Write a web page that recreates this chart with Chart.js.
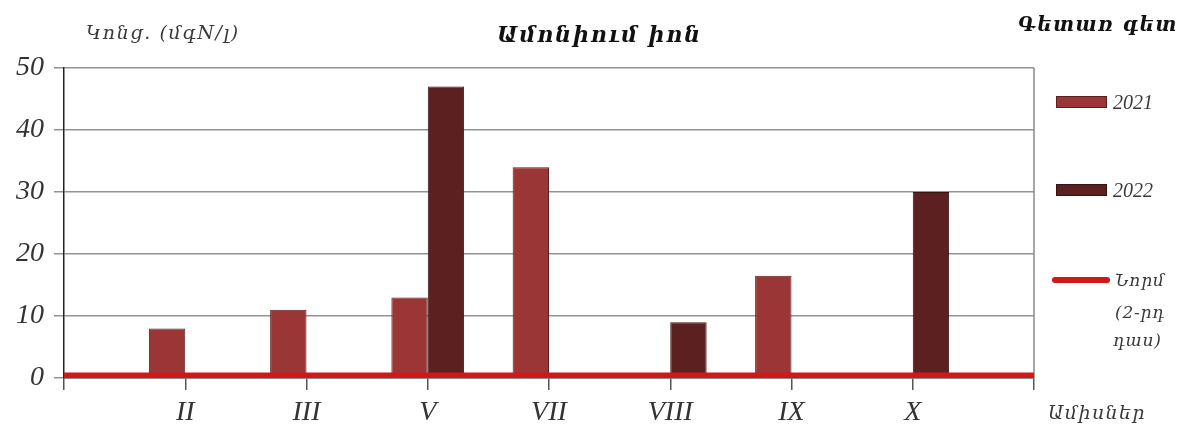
<!DOCTYPE html>
<html>
<head>
<meta charset="utf-8">
<script src="https://cdn.jsdelivr.net/npm/chart.js@4/dist/chart.umd.min.js"></script>
<style>
  html, body { margin: 0; padding: 0; background: #fff; }
  #wrap { position: relative; width: 1185px; height: 430px; overflow: hidden; }
  #chart { position: absolute; left: 0; top: 0; }
  .t { position: absolute; white-space: nowrap; font-family: "DejaVu Serif", serif; font-style: italic;
       color: #3a3a3a; line-height: 1; transform: translateY(-50%); }
  .sw { position: absolute; box-sizing: border-box; }
</style>
</head>
<body>
<div id="wrap">
  <canvas id="chart" width="1185" height="430"></canvas>

  <div class="t" style="left:86px;top:32px;font-size:19px;letter-spacing:1.6px;">Կոնց. (մգN/լ)</div>
  <div class="t" style="left:497px;top:34px;font-size:22px;letter-spacing:1.8px;font-weight:bold;color:#111;">Ամոնիում իոն</div>
  <div class="t" style="left:1018px;top:24px;font-size:20px;letter-spacing:1.4px;font-weight:bold;color:#111;">Գետառ գետ</div>

  <div class="sw" style="left:1056px;top:96px;width:51px;height:12px;background:#9a3636;border:1px solid #5a2020;"></div>
  <div class="t" style="left:1113px;top:102px;font-family:'Liberation Serif',serif;font-size:20px;">2021</div>

  <div class="sw" style="left:1056px;top:184px;width:51px;height:12px;background:#5c2020;border:1px solid #3a1212;"></div>
  <div class="t" style="left:1113px;top:190px;font-family:'Liberation Serif',serif;font-size:20px;">2022</div>

  <div class="sw" style="left:1052px;top:277px;width:58px;height:6px;background:#d11818;border-radius:3px;"></div>
  <div class="t" style="left:1115px;top:280px;font-size:17px;letter-spacing:0.8px;">Նորմ</div>
  <div class="t" style="left:1115px;top:312px;font-size:17px;letter-spacing:0.8px;">(2-րդ</div>
  <div class="t" style="left:1113px;top:340px;font-size:17px;letter-spacing:0.8px;">դաս)</div>

  <div class="t" style="left:1048px;top:412px;font-size:19px;letter-spacing:1.4px;">Ամիսներ</div>
</div>

<script>
// Sampling months (Roman numerals) and ammonium concentrations, mgN/l
const months = ['II', 'III', 'V', 'VII', 'VIII', 'IX', 'X'];
const values2021 = [8, 11, 13, 34, null, 16.5, null];
const values2022 = [null, null, 47, null, 9, null, 30];
const normValue = 0.4;          // 2nd quality class limit
const yTicks = [0, 10, 20, 30, 40, 50];

// The month axis keeps an empty slot at each end
const axisLabels = ['', ...months, ''];
const pad = arr => [null, ...arr, null];

// Right-hand frame line of the plot area
const framePlugin = {
  id: 'frame',
  beforeDatasetsDraw(chart) {
    const { ctx, chartArea } = chart;
    ctx.save();
    ctx.strokeStyle = '#8a8a8a';
    ctx.lineWidth = 1.5;
    ctx.beginPath();
    ctx.moveTo(chartArea.right, chartArea.top);
    ctx.lineTo(chartArea.right, chartArea.bottom);
    ctx.stroke();
    ctx.restore();
  }
};

const serifItalic = size => ({ family: "'Liberation Serif', serif", style: 'italic', size });

new Chart(document.getElementById('chart'), {
  data: {
    labels: axisLabels,
    datasets: [
      {
        type: 'bar',
        label: '2021',
        data: pad(values2021),
        backgroundColor: '#9a3636',
        borderColor: '#5a2020',
        borderWidth: 1,
        categoryPercentage: 0.6,
        barPercentage: 1.0,
        order: 1
      },
      {
        type: 'bar',
        label: '2022',
        data: pad(values2022),
        backgroundColor: '#5c2020',
        borderColor: '#3a1212',
        borderWidth: 1,
        categoryPercentage: 0.6,
        barPercentage: 1.0,
        order: 1
      },
      {
        type: 'line',
        label: 'Նորմ (2-րդ դաս)',
        data: axisLabels.map(() => normValue),
        borderColor: '#d11818',
        borderWidth: 6,
        pointRadius: 0,
        fill: false,
        order: 0
      }
    ]
  },
  options: {
    responsive: false,
    animation: false,
    devicePixelRatio: 1,
    layout: { padding: { left: 0, right: 151, top: 68, bottom: 0 } },
    plugins: { legend: { display: false }, tooltip: { enabled: false } },
    scales: {
      x: {
        type: 'category',
        offset: false,
        grid: { offset: false, drawOnChartArea: false, drawTicks: true, tickLength: 12, color: '#555', lineWidth: 1.5 },
        border: { display: true, color: '#555', width: 1.5 },
        ticks: { font: serifItalic(28), color: '#333', padding: 6, autoSkip: false, maxRotation: 0 },
        afterFit(scale) { scale.height = 52; }
      },
      y: {
        min: 0,
        max: 50,
        afterBuildTicks(scale) { scale.ticks = yTicks.map(v => ({ value: v })); },
        grid: { color: '#939393', lineWidth: 1.5, tickLength: 10 },
        border: { color: '#222', width: 1.5 },
        ticks: { font: serifItalic(28), color: '#333', padding: 10 },
        afterFit(scale) { scale.width = 64; }
      }
    }
  },
  plugins: [framePlugin]
});
</script>
</body>
</html>
